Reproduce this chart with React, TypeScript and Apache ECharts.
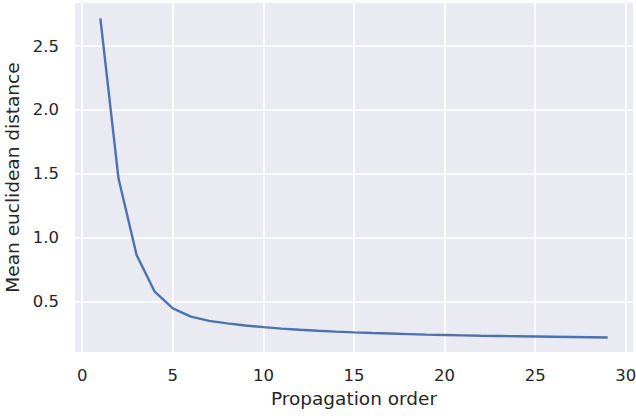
import React, { useEffect, useRef } from "react";
import * as echarts from "echarts";

const orders = [1, 2, 3, 4, 5, 6, 7, 8, 9, 10, 11, 12, 13, 14, 15, 16, 17, 18, 19, 20, 21, 22, 23, 24, 25, 26, 27, 28, 29];
const distances = [2.716, 1.466, 0.867, 0.58, 0.45, 0.385, 0.352, 0.333, 0.316, 0.303, 0.292, 0.283, 0.275, 0.268, 0.262, 0.257, 0.253, 0.249, 0.245, 0.242, 0.239, 0.236, 0.234, 0.232, 0.23, 0.228, 0.226, 0.224, 0.222];
const xTicks = [0, 5, 10, 15, 20, 25, 30];
const yTicks = [0.5, 1.0, 1.5, 2.0, 2.5];

export default function App() {
  const ref = useRef<HTMLDivElement>(null);
  useEffect(() => {
    if (!ref.current) return;
    const chart = echarts.init(ref.current, undefined, { renderer: "svg" });
    const font = "DejaVu Sans";
    const textColor = "#262626";
    chart.setOption({
      animation: false,
      backgroundColor: "#ffffff",
      grid: {
        left: 75,
        right: 3,
        top: 3,
        bottom: 64,
        show: true,
        backgroundColor: "#EAEAF2",
        borderWidth: 0,
        containLabel: false,
        outerBoundsMode: "none",
      },
      xAxis: {
        type: "value",
        min: -0.4,
        max: 30.4,
        name: "Propagation order",
        nameLocation: "middle",
        nameGap: 36,
        nameTextStyle: { fontFamily: font, fontSize: 18.5, color: textColor },
        axisLine: { show: false },
        axisTick: { show: false, customValues: xTicks },
        axisLabel: {
          customValues: xTicks,
          fontFamily: font,
          fontSize: 16.5,
          color: textColor,
          margin: 15,
        },
        splitLine: { show: true, lineStyle: { color: "#ffffff", width: 1.6 } },
      },
      yAxis: {
        type: "value",
        min: 0.109,
        max: 2.836,
        name: "Mean euclidean distance",
        nameLocation: "middle",
        nameGap: 48,
        nameTextStyle: { fontFamily: font, fontSize: 18.5, color: textColor },
        axisLine: { show: false },
        axisTick: { show: false, customValues: yTicks },
        axisLabel: {
          customValues: yTicks,
          formatter: (v: number) => v.toFixed(1),
          fontFamily: font,
          fontSize: 16.5,
          color: textColor,
          margin: 16,
        },
        splitLine: { show: true, lineStyle: { color: "#ffffff", width: 1.6 } },
      },
      series: [
        {
          type: "line",
          data: orders.map((o, i) => [o, distances[i]]),
          showSymbol: false,
          lineStyle: { color: "#4C72B0", width: 2.4 },
        },
      ],
    });
    return () => chart.dispose();
  }, []);
  return (
    <div
      ref={ref}
      style={{ position: "absolute", left: 0, top: 0, width: 636, height: 416 }}
    />
  );
}
